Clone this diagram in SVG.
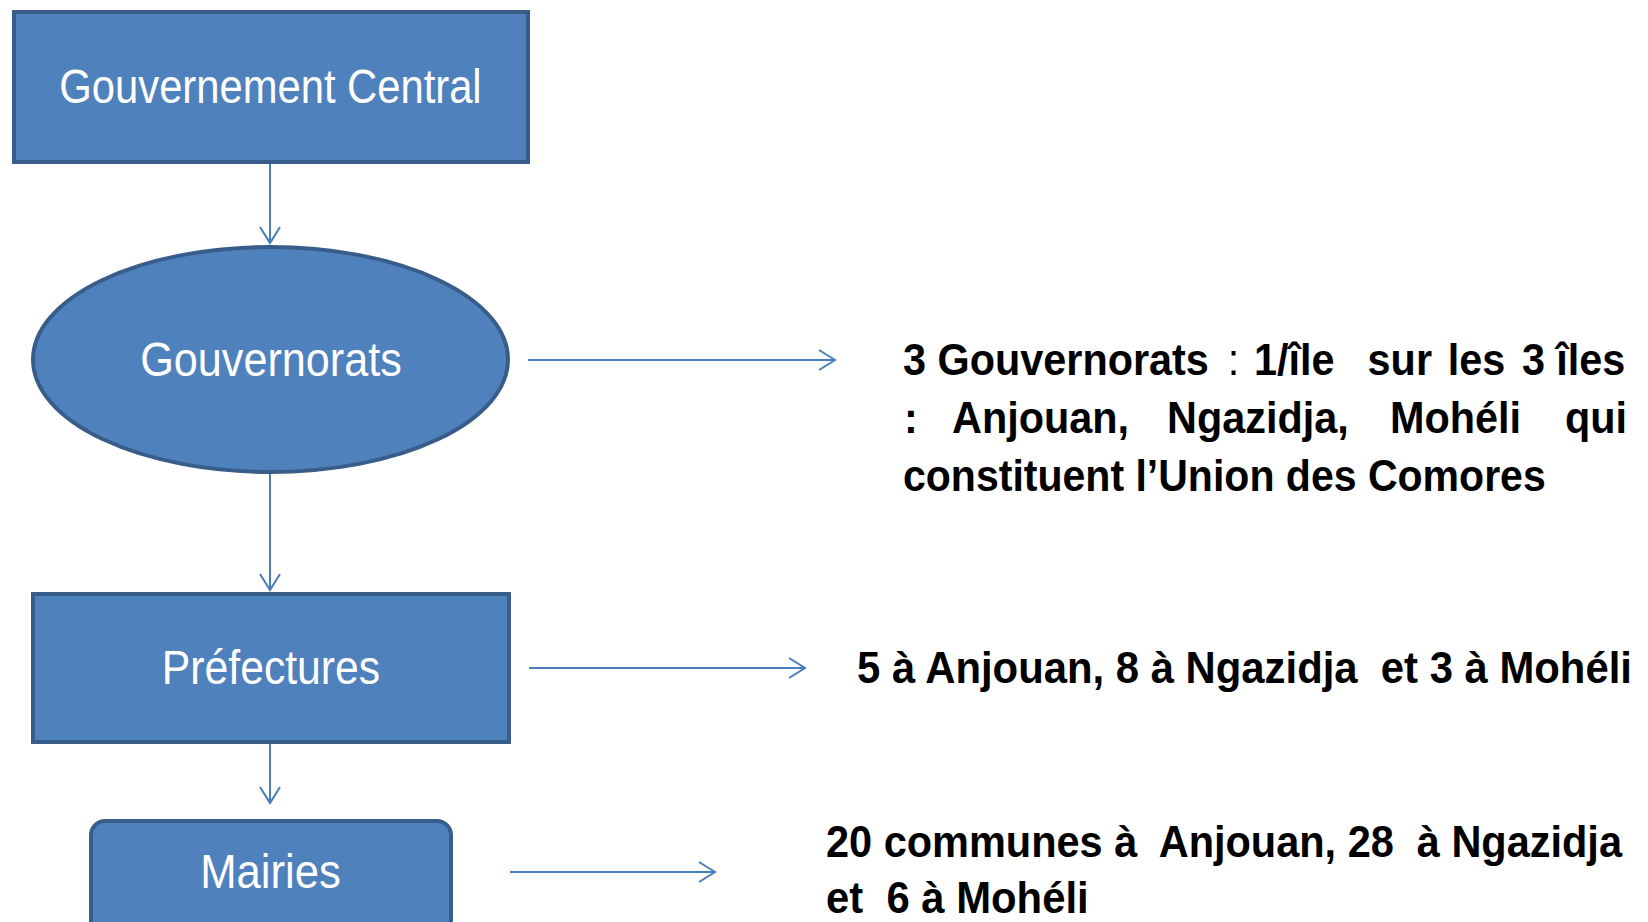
<svg xmlns="http://www.w3.org/2000/svg" width="1648" height="922" viewBox="0 0 1648 922">
<defs>
<style>
.node{fill:#4F81BD;stroke:#385D8A;stroke-width:4}
.lbl{font-family:"Liberation Sans",Arial,sans-serif;font-size:48px;fill:#FFFFFF;text-anchor:middle}
.note{font-family:"Liberation Sans",Arial,sans-serif;font-size:45px;font-weight:bold;fill:#000000}
.thin{font-weight:normal}
.conn{stroke:#4A7EBB;stroke-width:2;fill:none}
</style>
<marker id="arr" viewBox="0 0 20 24" refX="18" refY="12" markerWidth="20" markerHeight="24" markerUnits="userSpaceOnUse" orient="auto">
<path d="M2,2 L18,12 L2,22" fill="none" stroke="#4A7EBB" stroke-width="2"/>
</marker>
</defs>
<rect width="1648" height="922" fill="#FFFFFF"/>
<g id="connectors">
<line class="conn" x1="270" y1="164" x2="270" y2="243" marker-end="url(#arr)"/>
<line class="conn" x1="270" y1="474" x2="270" y2="590" marker-end="url(#arr)"/>
<line class="conn" x1="270" y1="744" x2="270" y2="803" marker-end="url(#arr)"/>
<line class="conn" x1="528" y1="360" x2="835" y2="360" marker-end="url(#arr)"/>
<line class="conn" x1="529" y1="668" x2="805" y2="668" marker-end="url(#arr)"/>
<line class="conn" x1="510" y1="872" x2="715" y2="872" marker-end="url(#arr)"/>
</g>
<g id="gouvernement">
<rect class="node" x="14" y="12" width="514" height="150"/>
<text class="lbl" transform="translate(270.5,103) scale(0.87,1)">Gouvernement Central</text>
</g>
<g id="gouvernorats">
<ellipse class="node" cx="270.5" cy="359.5" rx="237.5" ry="112.5"/>
<text class="lbl" transform="translate(271,376) scale(0.9,1)">Gouvernorats</text>
</g>
<g id="prefectures">
<rect class="node" x="33" y="594" width="476" height="148"/>
<text class="lbl" transform="translate(271,684) scale(0.89,1)">Préfectures</text>
</g>
<g id="mairies">
<rect class="node" x="91" y="821" width="360" height="130" rx="14" ry="14"/>
<text class="lbl" transform="translate(270.5,888) scale(0.91,1)">Mairies</text>
</g>
<g id="note-gouvernorats">
<text class="note" transform="translate(903,375) scale(0.92,1)"><tspan x="0">3 Gouvernorats</tspan><tspan class="thin" x="353">:</tspan><tspan x="381.5">1/île</tspan><tspan x="505">sur</tspan><tspan x="592">les</tspan><tspan x="672.8">3</tspan><tspan x="710">îles</tspan></text>
<text class="note" transform="translate(903,433) scale(0.92,1)"><tspan x="1.1">:</tspan><tspan x="53.3">Anjouan,</tspan><tspan x="287">Ngazidja,</tspan><tspan x="529.3">Mohéli</tspan><tspan x="719.6">qui</tspan></text>
<text class="note" transform="translate(903,491) scale(0.912,1)">constituent l’Union des Comores</text>
</g>
<g id="note-prefectures">
<text class="note" xml:space="preserve" transform="translate(857,683) scale(0.93,1)">5 à Anjouan, 8 à Ngazidja  et 3 à Mohéli</text>
</g>
<g id="note-mairies">
<text class="note" xml:space="preserve" transform="translate(826,857) scale(0.922,1)">20 communes à  Anjouan, 28  à Ngazidja</text>
<text class="note" xml:space="preserve" transform="translate(826,913) scale(0.93,1)">et  6 à Mohéli</text>
</g>
</svg>
